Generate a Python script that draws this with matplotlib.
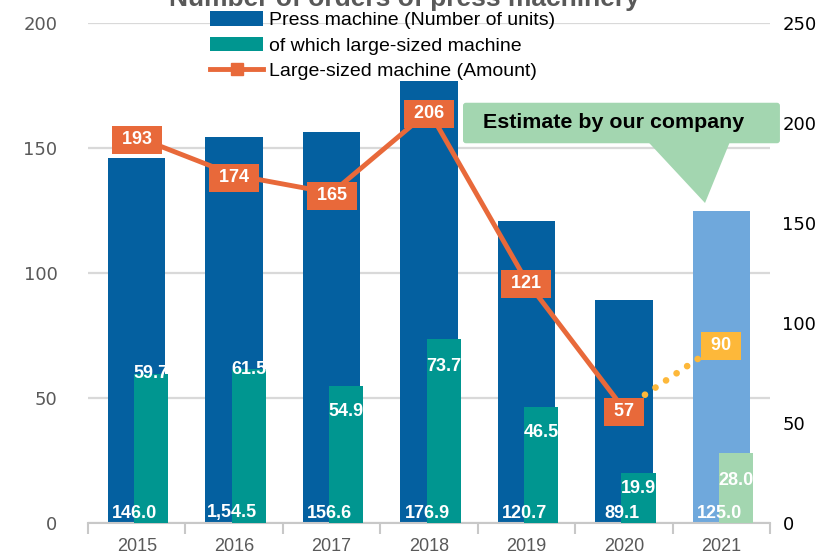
import matplotlib
matplotlib.use('Agg')
import matplotlib.pyplot as plt
from matplotlib.patches import Patch, Polygon, FancyBboxPatch
from matplotlib.lines import Line2D
import numpy as np

plt.rcParams['font.family'] = ['Liberation Sans', 'DejaVu Sans']

# ---- data ----
years = ['2015', '2016', '2017', '2018', '2019', '2020', '2021']
press_units = [146.0, 154.5, 156.6, 176.9, 120.7, 89.1, 125.0]
press_labels = ['146.0', '1,54.5', '156.6', '176.9', '120.7', '89.1', '125.0']
large_units = [59.7, 61.5, 54.9, 73.7, 46.5, 19.9, 28.0]
large_labels = ['59.7', '61.5', '54.9', '73.7', '46.5', '19.9', '28.0']
large_label_drop = [0.0, 0.3, 10.5, 11.0, 10.2, 6.0, 11.0]
amount = [193, 174, 165, 206, 121, 57, 90]
n_actual = 6  # last value (2021) is an estimate

# ---- style ----
C_BLUE, C_BLUE_L = '#0460A0', '#6FA8DC'
C_TEAL, C_TEAL_L = '#009690', '#A3D6B0'
C_ORANGE, C_YELLOW = '#E8693A', '#FDB83A'
GRID = '#D9D9D9'

fig = plt.figure(figsize=(8.36, 5.55), dpi=100)
ax = fig.add_axes([88 / 836, 1 - 523 / 555, 682 / 836, 500 / 555])
x = np.arange(len(years))

blue_cols = [C_BLUE] * n_actual + [C_BLUE_L]
teal_cols = [C_TEAL] * n_actual + [C_TEAL_L]
ax.bar(x, press_units, width=0.59, color=blue_cols, zorder=2)
ax.bar(x + 0.15, large_units, width=0.35, color=teal_cols, zorder=3)

ax.set_xlim(-0.5, len(years) - 0.5)
ax.set_ylim(0, 200)
ax.set_yticks([0, 50, 100, 150, 200])
ax.grid(axis='y', color=GRID, lw=1.6, zorder=0)
ax.set_axisbelow(True)
for s in ['left', 'right', 'top']:
    ax.spines[s].set_visible(False)
ax.spines['bottom'].set_color('#C8C8C8')
ax.spines['bottom'].set_linewidth(1.5)
ax.set_xticks(x)
ax.set_xticklabels(years)
ax.set_xticks(np.arange(-0.5, len(years), 1), minor=True)
ax.tick_params(axis='x', which='major', length=0, pad=11, labelsize=13, labelcolor='#595959')
ax.tick_params(axis='x', which='minor', length=8, width=1.5, color='#C8C8C8')
ax.tick_params(axis='y', length=0, pad=22, labelsize=13, labelcolor='#595959')
for t in ax.get_yticklabels():
    t.set_fontfamily('DejaVu Sans')

# bar labels
for i in range(len(years)):
    ax.text(x[i] - 0.02, 4.0, press_labels[i], ha='center', va='center', color='white',
            fontsize=13, fontweight='bold', zorder=5)
    ax.text(x[i] + 0.15, large_units[i] - large_label_drop[i], large_labels[i],
            ha='center', va='center', color='white', fontsize=13, fontweight='bold', zorder=5)

# secondary axis
ax2 = ax.twinx()
ax2.set_ylim(0, 250)
ax2.set_yticks([0, 50, 100, 150, 200, 250])
ax2.tick_params(axis='y', length=0, pad=9, labelsize=13, labelcolor='black')
for t in ax2.get_yticklabels():
    t.set_fontfamily('DejaVu Sans')
for s in ax2.spines.values():
    s.set_visible(False)

ax2.plot(x[n_actual - 1:], amount[n_actual - 1:], color=C_YELLOW, lw=4.8,
         linestyle=(0, (0.01, 1.9)), dash_capstyle='round', zorder=2)
ax2.plot(x[:n_actual], amount[:n_actual], color=C_ORANGE, lw=3.5, marker='s', ms=8, zorder=3)
for i in range(len(years)):
    col = C_ORANGE if i < n_actual else C_YELLOW
    ax2.text(x[i], amount[i] - 1.5, ' ' + str(amount[i]) + ' ', ha='center', va='center',
             color='white', fontsize=13, fontweight='bold', zorder=6,
             bbox=dict(boxstyle='square,pad=0.28', fc=col, ec='none'))

# callout "Estimate by our company"
box = FancyBboxPatch((3.349, 151.9), 3.253, 16.2,
                     boxstyle='round,pad=0,rounding_size=0.03', mutation_aspect=39,
                     fc=C_TEAL_L, ec='none', clip_on=False, zorder=4)
ax.add_patch(box)
tri = Polygon([(5.248, 152.5), (6.089, 152.5), (5.833, 128)], closed=True,
              fc=C_TEAL_L, ec='none', clip_on=False, zorder=4, joinstyle='round')
ax.add_patch(tri)
ax.text(3.554, 160, 'Estimate by our company', ha='left', va='center', fontsize=15.4,
        fontweight='bold', color='black', zorder=5, clip_on=False)

# legend
handles = [Patch(fc=C_BLUE, ec='none'), Patch(fc=C_TEAL, ec='none'),
           Line2D([], [], color=C_ORANGE, lw=3.5, marker='s', ms=9)]
labels = ['Press machine (Number of units)', 'of which large-sized machine',
          'Large-sized machine (Amount)']
fig.legend(handles, labels, loc='upper left', bbox_to_anchor=(210 / 836, 1 - 11 / 555),
           frameon=False, fontsize=14, handlelength=2.75, handleheight=0.8,
           handletextpad=0.28, labelspacing=0.38, borderpad=0, borderaxespad=0)

# title (cut off at top in the reference)
fig.text(404 / 836, 1 - 6 / 555, 'Number of orders of press machinery', ha='center',
         va='baseline', fontsize=19, fontweight='bold', color='#595959')

fig.savefig('out.png', dpi=100)
